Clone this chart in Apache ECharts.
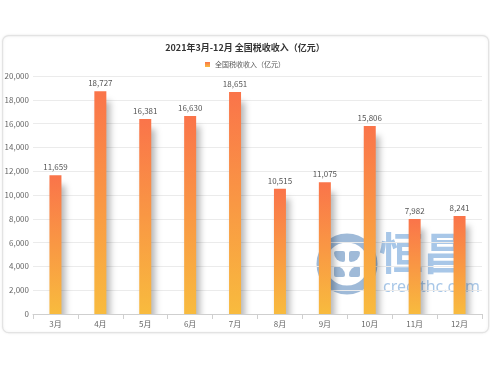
<!DOCTYPE html>
<html>
<head>
<meta charset="utf-8">
<script src="https://cdn.jsdelivr.net/npm/echarts@6/dist/echarts.min.js"></script>
<style>
html,body{margin:0;padding:0;background:#fff;}
#c{width:490px;height:368px;}
</style>
</head>
<body>
<div id="c"></div>
<script>
const categories = ['3月','4月','5月','6月','7月','8月','9月','10月','11月','12月'];
const taxRevenue = [11659, 18727, 16381, 16630, 18651, 10515, 11075, 15806, 7982, 8241];
const seriesName = '全国税收收入（亿元）';
const titleText = '2021年3月-12月 全国税收收入（亿元）';

const chart = echarts.init(document.getElementById('c'), null, {renderer:'canvas'});
const fontFam = '"Noto Sans CJK SC", "Noto Sans", sans-serif';
chart.setOption({
  animation: false,
  textStyle: {fontFamily: fontFam},
  graphic: [
    {type:'rect', left:2, top:35, z:-10, silent:true,
     shape:{width:486, height:297, r:6},
     style:{fill:'#fff', stroke:'#e3e3e3', lineWidth:1.2, shadowBlur:3, shadowColor:'rgba(0,0,0,0.08)'}},
    {type:'rect', left:34, top:315, z:5, silent:true,
     shape:{width:450, height:16},
     style:{fill:'#fff'}},
    {type:'group', z:100, silent:true, children:[
      {type:'circle', shape:{cx:347, cy:264, r:26}, style:{fill:'none', stroke:'rgba(95,140,190,0.6)', lineWidth:9}},
      {type:'rect', shape:{x:334, y:251, width:11, height:11, r:[2,2,2,9]}, style:{fill:'rgba(95,140,190,0.6)'}},
      {type:'rect', shape:{x:349, y:251, width:11, height:11, r:[2,2,9,2]}, style:{fill:'rgba(95,140,190,0.6)'}},
      {type:'rect', shape:{x:334, y:266, width:11, height:11, r:[2,9,2,2]}, style:{fill:'rgba(95,140,190,0.6)'}},
      {type:'rect', shape:{x:349, y:266, width:11, height:11, r:[9,2,2,2]}, style:{fill:'rgba(95,140,190,0.6)'}},
      {type:'text', style:{x:379, y:231, text:'恒昌', font:'bold 44px "Noto Sans CJK SC"', fill:'rgba(105,158,215,0.58)'}},
      {type:'text', style:{x:383, y:279, text:'credithc.com', font:'16px "Noto Sans", sans-serif', fill:'rgba(105,158,215,0.58)'}}
    ]}
  ],
  title: {
    text: titleText, left: 'center', top: 38,
    textStyle: {fontSize: 9, fontWeight: 'bold', color: '#333'}
  },
  legend: {
    top: 56, left: 'center', itemWidth: 5, itemHeight: 5, icon: 'rect',
    textStyle: {fontSize: 7, color: '#555'}, itemGap: 4,
    data: [seriesName]
  },
  grid: {left: 33, right: 8, top: 76, bottom: 54, containLabel: false},
  xAxis: {
    type: 'category', data: categories, z: 10,
    axisLine: {lineStyle: {color: '#cfcfcf'}},
    axisTick: {show: true, lineStyle: {color: '#cfcfcf'}},
    axisLabel: {fontSize: 8, color: '#666', margin: 6}
  },
  yAxis: {
    type: 'value', min: 0, max: 20000, interval: 2000,
    axisLine: {show: false}, axisTick: {show: false},
    axisLabel: {fontSize: 8, color: '#666', margin: 4,
      formatter: v => v.toLocaleString('en-US')},
    splitLine: {lineStyle: {color: '#ebebeb'}}
  },
  series: [{
    name: seriesName, type: 'bar', data: taxRevenue, barWidth: 12,
    itemStyle: {
      color: new echarts.graphic.LinearGradient(0,0,0,1,[
        {offset:0, color:'#fa744a'}, {offset:1, color:'#f8bb3e'}]),
      shadowColor: 'rgba(0,0,0,0.28)', shadowBlur: 6, shadowOffsetX: 4, shadowOffsetY: 10
    },
    label: {show: true, position: 'top', fontSize: 8, color: '#555', distance: 4,
      formatter: p => p.value.toLocaleString('en-US')}
  }]
});
</script>
</body>
</html>
